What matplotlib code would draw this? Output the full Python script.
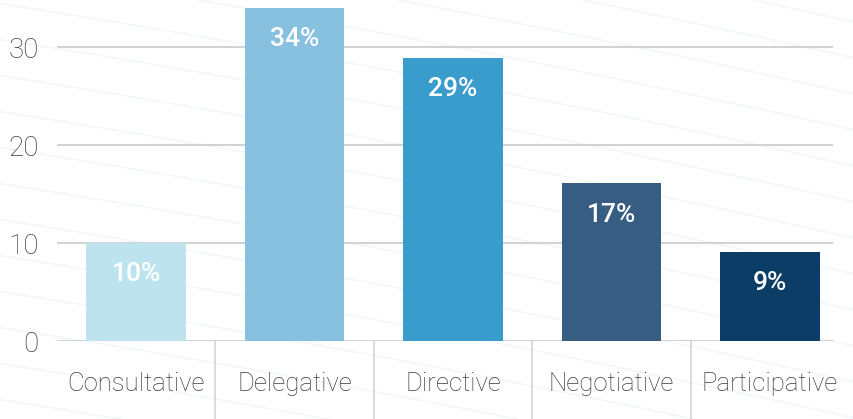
import matplotlib
matplotlib.use("Agg")
import matplotlib.pyplot as plt
import numpy as np

categories = ["Consultative", "Delegative", "Directive", "Negotiative", "Participative"]
values = [10, 34, 28.9, 16.1, 9.1]
labels = ["10%", "34%", "29%", "17%", "9%"]
colors = ["#bce3ee", "#88c1e0", "#3a9bcd", "#375d82", "#0c3d66"]
yticks = [0, 10, 20, 30]

plt.rcParams['font.family'] = ['Roboto', 'DejaVu Sans']

W, H = 854, 419
fig = plt.figure(figsize=(W / 100, H / 100), dpi=100)
fig.patch.set_facecolor("white")

# faint decorative background curves
bg = fig.add_axes([0, 0, 1, 1], zorder=-1)
bg.set_xlim(0, W); bg.set_ylim(H, 0); bg.axis("off")
xs = np.linspace(0, W, 200)
for k in range(-12, 22):
    y0 = k * 36
    bg.plot(xs, y0 + 0.18 * xs + 0.00004 * (xs - 300) ** 2, color="#eff6fa", lw=1.0)

left, right, bottom_px = 57, 849, 341
ax = fig.add_axes([left / W, 1 - bottom_px / H, (right - left) / W, bottom_px / H])
ax.patch.set_alpha(0)
x = np.arange(len(categories))
ax.set_xlim(-0.5, len(categories) - 0.5)
ax.set_ylim(0, bottom_px / 9.8)

for yv in yticks:
    ax.axhline(yv, xmin=0, xmax=(832 - left) / (right - left), color="#d3d3d3", lw=1.5, zorder=1)

bars = ax.bar(x, values, width=0.63, color=colors, zorder=2)
for xi, v, lab in zip(x, values, labels):
    ax.text(xi, v - 3.2, lab, ha="center", va="center", color="white",
            fontsize=19, fontweight="medium", zorder=3)

# separators below the axis
for b in np.arange(0.5, len(categories) - 0.5, 1.0):
    ax.plot([b, b], [0, -8], color="#d3d3d3", lw=1.2, clip_on=False, zorder=1)

ax.set_yticks(yticks)
ax.set_yticklabels([str(t) for t in yticks], fontsize=20, color="#3c3c3c", fontweight="light")
ax.set_xticks(x)
ax.set_xticklabels(categories, fontsize=18.5, color="#3c3c3c", fontweight="light")
ax.tick_params(axis="y", length=0, pad=13)
ax.tick_params(axis="x", length=0, pad=22)
for s in ax.spines.values():
    s.set_visible(False)

fig.savefig("out.png", dpi=100)
